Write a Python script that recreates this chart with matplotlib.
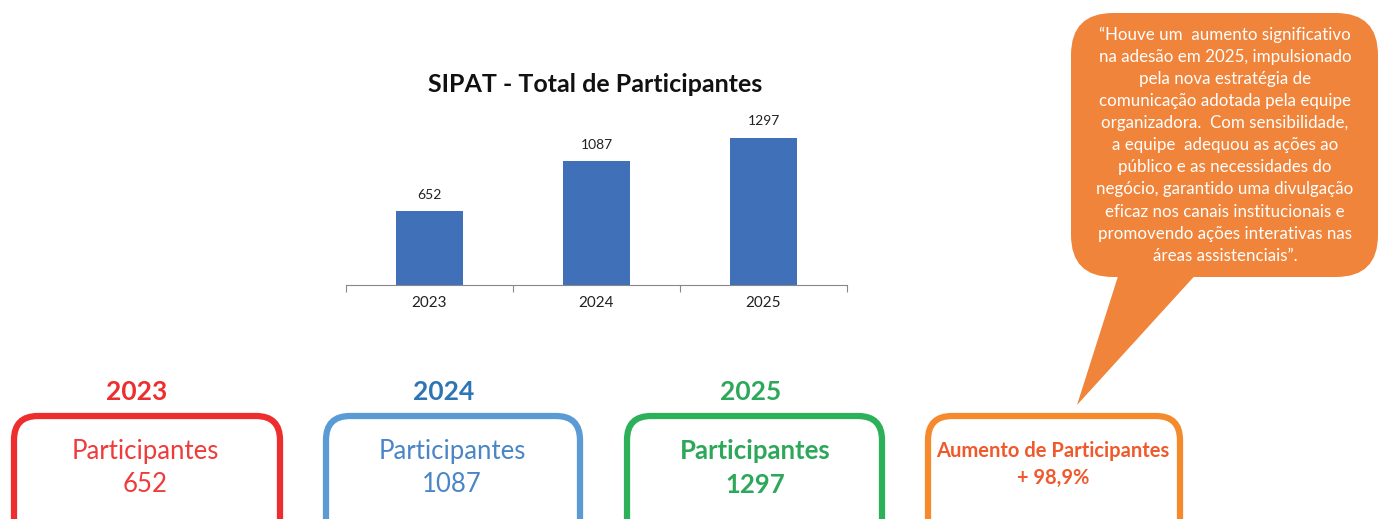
import matplotlib
matplotlib.use("Agg")
import matplotlib.pyplot as plt
from matplotlib.patches import FancyBboxPatch, Polygon

years = ["2023", "2024", "2025"]
participants = [652, 1087, 1297]
increase_label = "+ 98,9%"
title = "SIPAT - Total de Participantes"
quote = ("\u201cHouve um  aumento significativo\n"
         "na adesão em 2025, impulsionado\n"
         "pela nova estratégia de\n"
         "comunicação adotada pela equipe\n"
         "organizadora.  Com sensibilidade,\n"
         "a equipe  adequou as ações ao\n"
         "público e as necessidades do\n"
         "negócio, garantido uma divulgação\n"
         "eficaz nos canais institucionais e\n"
         "promovendo ações interativas nas\n"
         "áreas assistenciais\u201d.")

FONT = ["Lato", "DejaVu Sans"]
plt.rcParams["font.family"] = FONT

W, H = 1379, 519
fig = plt.figure(figsize=(W / 100, H / 100), dpi=100)
fig.patch.set_facecolor("white")

# overlay in pixel coordinates
ov = fig.add_axes([0, 0, 1, 1])
ov.set_xlim(0, W)
ov.set_ylim(H, 0)
ov.axis("off")

# bar chart
ax = fig.add_axes([346 / W, (H - 285) / H, 501 / W, 165 / H])
x = list(range(len(years)))
ax.bar(x, participants, width=0.4, color="#4070B8", zorder=2)
ax.set_xlim(-0.5, 2.5)
ax.set_ylim(0, 1452)
for xi, v in zip(x, participants):
    ax.text(xi, v + 90, str(v), ha="center", va="bottom", fontsize=10, color="#222222")
for s in ["top", "right", "left"]:
    ax.spines[s].set_visible(False)
ax.spines["bottom"].set_color("#888888")
ax.set_yticks([])
ax.set_xticks([-0.5, 0.5, 1.5, 2.5])
ax.set_xticklabels([])
ax.tick_params(axis="x", length=5, color="#888888", direction="out")
for xi, y in zip(x, years):
    ax.text(xi, -0.11, y, transform=ax.get_xaxis_transform(), ha="center", va="center",
            fontsize=11, color="#222222")
ax.patch.set_alpha(0)
ov.text(595, 85, title, ha="center", va="center", fontsize=18, fontweight="bold", color="#111111")

# boxes
boxes = [
    dict(x0=14, x1=280, edge="#EE2E2E", ytxt="#EE2E2E", txt="#EE3B3B", bold=False, cx=145, yx=137),
    dict(x0=326, x1=580, edge="#5B9BD5", ytxt="#2E75B6", txt="#4A86C5", bold=False, cx=452, yx=444),
    dict(x0=627, x1=882, edge="#2DB05A", ytxt="#2DA85A", txt="#2DA85A", bold=True, cx=755, yx=751),
]
for b, yr, v in zip(boxes, years, participants):
    p = FancyBboxPatch((b["x0"], 416), b["x1"] - b["x0"], 140,
                       boxstyle="round,pad=0,rounding_size=24",
                       fc="white", ec=b["edge"], lw=4.5, zorder=3)
    ov.add_patch(p)
    ov.text(b["yx"], 392, yr, ha="center", va="center", fontsize=19, fontweight="bold",
            color=b["ytxt"], zorder=4)
    fw = "bold" if b["bold"] else "normal"
    ov.text(b["cx"], 451, "Participantes", ha="center", va="center", fontsize=18.5,
            fontweight=fw, color=b["txt"], zorder=4)
    ov.text(b["cx"], 485, str(v), ha="center", va="center", fontsize=18.5,
            fontweight=fw, color=b["txt"], zorder=4)

# orange box
p = FancyBboxPatch((928, 416), 252, 140, boxstyle="round,pad=0,rounding_size=24",
                   fc="white", ec="#F58A2C", lw=4.5, zorder=3)
ov.add_patch(p)
ov.text(1053, 451, "Aumento de Participantes", ha="center", va="center", fontsize=14.5,
        fontweight="bold", color="#F0592B", zorder=4)
ov.text(1053, 478, increase_label, ha="center", va="center", fontsize=14.5,
        fontweight="bold", color="#F0592B", zorder=4)

# speech bubble
bc = "#F0843A"
bub = FancyBboxPatch((1071, 13), 307, 264, boxstyle="round,pad=0,rounding_size=42",
                     fc=bc, ec="none", zorder=2)
ov.add_patch(bub)
ov.add_patch(Polygon([(1120, 270), (1200, 270), (1077, 405)], closed=True, fc=bc, ec="none", zorder=2))
ov.text(1225, 145, quote, ha="center", va="center", fontsize=12.2, color="white",
        linespacing=1.47, zorder=4)

fig.savefig("out.png", dpi=100)
